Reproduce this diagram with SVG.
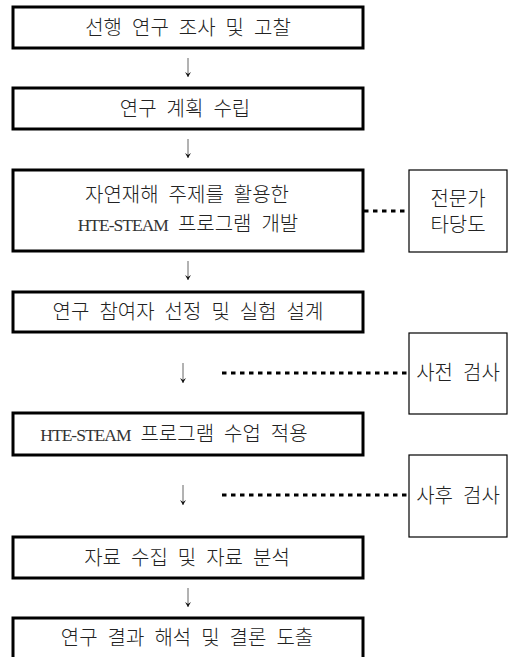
<svg xmlns="http://www.w3.org/2000/svg" width="508" height="657" viewBox="0 0 508 657">
<defs>
<style>
.box{fill:#fff;stroke:#000;stroke-width:3}
.side{fill:#fff;stroke:#000;stroke-width:1.2}
.t{font-family:"Liberation Serif","Noto Sans CJK KR",serif;font-size:20px;word-spacing:5px;fill:#222;font-weight:300;text-anchor:middle}
.lat{font-size:17.5px;font-weight:400;letter-spacing:-1px;fill:#333}
.arr{stroke:#666;stroke-width:1;fill:none;marker-end:url(#ah)}
.dot{stroke:#000;stroke-width:3;stroke-dasharray:4.5 4.5;fill:none}
</style>
<marker id="ah" viewBox="0 0 8 9" refX="4" refY="8.5" markerWidth="8" markerHeight="9" markerUnits="userSpaceOnUse" orient="0">
<path d="M1,3.5 L4,8.5 L7,3.5 L4,5.5 Z" fill="#111"/>
</marker>
</defs>
<rect width="508" height="657" fill="#fff"/>
<g id="connectors">
<path class="arr" d="M188,58 V77"/>
<path class="arr" d="M188,139 V158"/>
<path class="arr" d="M188,261 V280"/>
<path class="arr" d="M183,363 V383"/>
<path class="arr" d="M183,485 V505"/>
<path class="arr" d="M188,588 V607"/>
<path class="dot" d="M364,211 H409"/>
<path class="dot" d="M222,373 H408"/>
<path class="dot" d="M222,495 H408"/>
</g>
<g id="n1"><rect class="box" x="13" y="7" width="350" height="41"/><text class="t" x="188" y="34.5">선행 연구 조사 및 고찰</text></g>
<g id="n2"><rect class="box" x="13" y="88" width="350" height="41"/><text class="t" x="185" y="115.5">연구 계획 수립</text></g>
<g id="n3"><rect class="box" x="13" y="170" width="350" height="81"/><text class="t" x="187" y="202">자연재해 주제를 활용한</text><text class="t" x="188" y="230.5"><tspan class="lat">HTE-STEAM</tspan> 프로그램 개발</text></g>
<g id="n3s"><rect class="side" x="409" y="170" width="98" height="82"/><text class="t" x="458" y="205.5">전문가</text><text class="t" x="458" y="231.5">타당도</text></g>
<g id="n4"><rect class="box" x="13" y="292" width="350" height="40"/><text class="t" x="188" y="319">연구 참여자 선정 및 실험 설계</text></g>
<g id="n4s"><rect class="side" x="409" y="333" width="98" height="81"/><text class="t" x="458" y="380">사전 검사</text></g>
<g id="n5"><rect class="box" x="13" y="413" width="350" height="42"/><text class="t" x="174" y="441"><tspan class="lat">HTE-STEAM</tspan> 프로그램 수업 적용</text></g>
<g id="n5s"><rect class="side" x="409" y="455" width="98" height="82"/><text class="t" x="458" y="503">사후 검사</text></g>
<g id="n6"><rect class="box" x="13" y="537" width="350" height="41"/><text class="t" x="187" y="564.5">자료 수집 및 자료 분석</text></g>
<g id="n7"><rect class="box" x="13" y="618" width="350" height="42"/><text class="t" x="187" y="645">연구 결과 해석 및 결론 도출</text></g>
</svg>
